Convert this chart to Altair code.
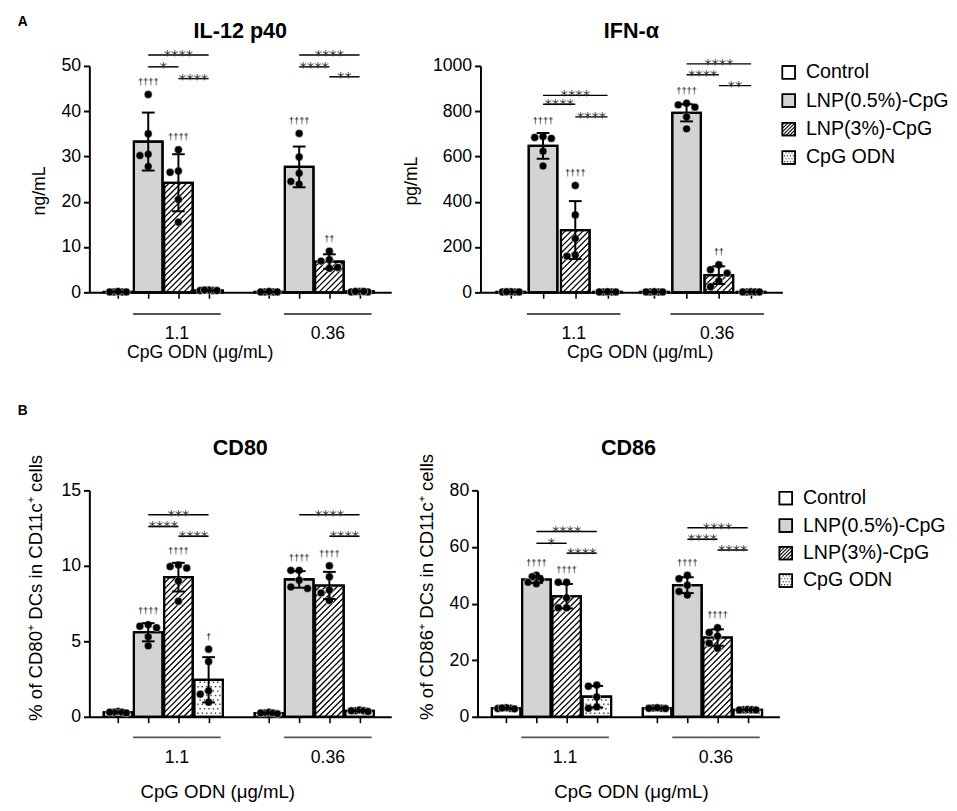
import altair as alt
import numpy as np
import pandas as pd

GROUPS = ["Control", "LNP(0.5%)-CpG", "LNP(3%)-CpG", "CpG ODN"]
DOSES = ["1.1", "0.36"]
FILLS = ["#ffffff", "#d3d3d3", "#ffffff", "#ffffff"]
PATTERN = ["none", "none", "hatch", "dots"]

# ---------------- IL-12 p40 (ng/mL) ----------------
il12_points_1_1 = [[0.1, 0.1, 0.2, 0.1, 0.1], [43.7, 35.0, 30.5, 30.2, 27.8],
                   [31.5, 26.5, 26.8, 20.5, 15.5], [0.4, 0.5, 0.4, 0.4, 0.5]]
il12_points_0_36 = [[0.1, 0.1, 0.1, 0.2, 0.1], [35.1, 29.9, 26.3, 24.5, 23.9],
                    [9.1, 7.2, 6.9, 5.5, 5.3], [0.2, 0.1, 0.2, 0.1, 0.2]]
il12_mean = [[0.1, 33.3, 24.2, 0.4], [0.1, 27.7, 6.8, 0.2]]
il12_sd = [[0.05, 6.4, 6.3, 0.05], [0.05, 4.5, 1.6, 0.05]]
il12_sig = [("1.1", 1, 3, "****", 52.4), ("1.1", 1, 2, "*", 49.8), ("1.1", 2, 3, "****", 47.2),
            ("0.36", 1, 3, "****", 52.4), ("0.36", 1, 2, "****", 49.8), ("0.36", 2, 3, "**", 47.6)]
il12_daggers = [["", "††††", "††††", ""], ["", "††††", "††", ""]]

# ---------------- IFN-α (pg/mL) ----------------
ifn_points_1_1 = [[2, 3, 2, 2, 3], [688, 684, 680, 623, 558],
                  [472, 342, 238, 165, 160], [2, 2, 3, 2, 2]]
ifn_points_0_36 = [[2, 2, 3, 2, 2], [835, 828, 818, 775, 722],
                   [122, 100, 85, 50, 25], [2, 3, 2, 2, 2]]
ifn_mean = [[2, 647, 275, 2], [2, 793, 76, 2]]
ifn_sd = [[0.5, 57, 128, 0.5], [0.5, 38, 39, 0.5]]
ifn_sig = [("1.1", 1, 3, "****", 870), ("1.1", 1, 2, "****", 831), ("1.1", 2, 3, "****", 775),
           ("0.36", 1, 3, "****", 1009), ("0.36", 1, 2, "****", 961), ("0.36", 2, 3, "**", 913)]
ifn_daggers = [["", "††††", "††††", ""], ["", "††††", "††", ""]]

# ---------------- CD80 (% of CD80+ DCs) ----------------
cd80_points_1_1 = [[0.35, 0.3, 0.3, 0.25, 0.3], [6.1, 6.0, 5.9, 5.3, 4.7],
                   [10.05, 9.95, 9.85, 9.0, 7.65], [4.48, 3.66, 1.72, 1.5, 0.97]]
cd80_points_0_36 = [[0.25, 0.3, 0.25, 0.2, 0.25], [9.7, 9.7, 9.05, 8.6, 8.5],
                    [10.0, 9.27, 8.4, 8.2, 7.7], [0.4, 0.45, 0.4, 0.35, 0.4]]
cd80_mean = [[0.3, 5.6, 9.25, 2.45], [0.25, 9.1, 8.7, 0.4]]
cd80_sd = [[0.04, 0.6, 0.95, 1.5], [0.04, 0.55, 0.9, 0.04]]
cd80_sig = [("1.1", 1, 3, "***", 13.38), ("1.1", 1, 2, "****", 12.6), ("1.1", 2, 3, "****", 11.96),
            ("0.36", 1, 3, "****", 13.38), ("0.36", 2, 3, "****", 11.96)]
cd80_daggers = [["", "††††", "††††", "†"], ["", "††††", "††††", ""]]

# ---------------- CD86 (% of CD86+ DCs) ----------------
cd86_points_1_1 = [[3.0, 2.8, 3.2, 2.9, 3.1], [50.0, 49.5, 48.5, 47.5, 47.0],
                   [47.5, 47.5, 42.0, 38.5, 38.5], [11.2, 10.8, 7.0, 3.5, 3.0]]
cd86_points_0_36 = [[3.0, 3.1, 2.9, 3.0, 3.2], [50.0, 48.8, 46.5, 44.3, 43.0],
                    [31.5, 29.8, 28.5, 26.0, 24.2], [2.5, 2.4, 2.6, 2.5, 2.4]]
cd86_mean = [[3.0, 48.5, 42.6, 7.1], [3.0, 46.5, 28.0, 2.5]]
cd86_sd = [[0.2, 1.2, 4.3, 3.8], [0.2, 2.8, 2.9, 0.1]]
cd86_sig = [("1.1", 1, 3, "****", 65.5), ("1.1", 1, 2, "*", 61.3), ("1.1", 2, 3, "****", 57.8),
            ("0.36", 1, 3, "****", 66.8), ("0.36", 1, 2, "****", 62.7), ("0.36", 2, 3, "****", 58.9)]
cd86_daggers = [["", "††††", "††††", ""], ["", "††††", "††††", ""]]

# ---------------- layout / style ----------------
W, H = 308, 231
FONT = "Liberation Sans"
STAR_FONT = "DejaVu Sans"
LAYOUT_WIDE = {"gap": 2.0, "dmin": -0.95, "dmax": 9.05}
LAYOUT_NARROW = {"gap": 1.45, "dmin": -0.94, "dmax": 8.42}
ROW_TOP = {"title_y": -29, "tag_y": -41, "line_y": H + 22, "dose_y": H + 48,
           "xtitle_y": H + 67, "xtitle_size": 18, "ytitle_size": 18}
ROW_BOTTOM = {"title_y": -36, "tag_y": -77, "line_y": H + 21, "dose_y": H + 47,
              "xtitle_y": H + 83, "xtitle_size": 19, "ytitle_size": 19}
ROW_GAP = 202

panels = [
    dict(title="IL-12 p40", ytitle="ng/mL", ymax=50, yticks=[0, 10, 20, 30, 40, 50],
         points=[il12_points_1_1, il12_points_0_36], mean=il12_mean, sd=il12_sd,
         sig=il12_sig, daggers=il12_daggers, layout=LAYOUT_WIDE, row=ROW_TOP,
         xtitle_x=113, ytitle_x=-51, ytitle_y=127, tag="A"),
    dict(title="IFN-α", ytitle="pg/mL", ymax=1000, yticks=[0, 200, 400, 600, 800, 1000],
         points=[ifn_points_1_1, ifn_points_0_36], mean=ifn_mean, sd=ifn_sd,
         sig=ifn_sig, daggers=ifn_daggers, layout=LAYOUT_NARROW, row=ROW_TOP,
         xtitle_x=163, ytitle_x=-70, ytitle_y=117, tag=""),
    dict(title="CD80", ytitle="% of CD80⁺ DCs in CD11c⁺ cells", ymax=15, yticks=[0, 5, 10, 15],
         points=[cd80_points_1_1, cd80_points_0_36], mean=cd80_mean, sd=cd80_sd,
         sig=cd80_sig, daggers=cd80_daggers, layout=LAYOUT_WIDE, row=ROW_BOTTOM,
         xtitle_x=131, ytitle_x=-55, ytitle_y=99, tag="B"),
    dict(title="CD86", ytitle="% of CD86⁺ DCs in CD11c⁺ cells", ymax=80, yticks=[0, 20, 40, 60, 80],
         points=[cd86_points_1_1, cd86_points_0_36], mean=cd86_mean, sd=cd86_sd,
         sig=cd86_sig, daggers=cd86_daggers, layout=LAYOUT_WIDE, row=ROW_BOTTOM,
         xtitle_x=157, ytitle_x=-52, ytitle_y=98, tag=""),
]


def hatch_px(xl, xr, yb, yt, step):
    segs = []
    h = yt - yb
    if h <= 1.0:
        return segs
    k0 = int(np.floor((xl - h) / step)) - 1
    k1 = int(np.ceil(xr / step)) + 1
    for k in range(k0, k1 + 1):
        c = k * step
        xs = max(xl, c)
        xe = min(xr, c + h)
        if xe - xs > 0.3:
            segs.append((xs, yb + xs - c, xe, yb + xe - c))
    return segs


def dots_px(xl, xr, yb, yt, step):
    pts = []
    r = 0
    y = yb + step * 0.6
    while y < yt - 1.0:
        x = xl + step * (0.6 if r % 2 == 0 else 1.1)
        while x < xr - 1.0:
            pts.append((x, y))
            x += step
        y += step
        r += 1
    return pts


def swarm(vals, py, d=9.0, maxoff=8.5):
    order = sorted(range(len(vals)), key=lambda i: -vals[i])
    placed = []
    offs = [0.0] * len(vals)
    for i in order:
        ypx = vals[i] * py
        dx = 0.0
        for k in [0, -1, 1, -2, 2, -3, 3]:
            dx = k * d
            if all((dx - q[0]) ** 2 + (ypx - q[1]) ** 2 >= (0.95 * d) ** 2 for q in placed):
                break
        placed.append((dx, ypx))
        offs[i] = dx
    m = max(abs(o) for o in offs)
    if m > maxoff:
        offs = [o * maxoff / m for o in offs]
    return offs


def build_panel(p):
    row = p["row"]
    lay = p["layout"]
    dmin, dmax, gap = lay["dmin"], lay["dmax"], lay["gap"]
    ps = W / (dmax - dmin)
    py = H / p["ymax"]

    def to_x(px):
        return dmin + px / ps

    def to_px(x):
        return (x - dmin) * ps

    bar_half = 14.6 / ps
    cap_half = 6.5 / ps

    positions, bars, pts, errs, caps, hatch, dots, dags = [], [], [], [], [], [], [], []
    pos_of = {}
    for di, dose in enumerate(DOSES):
        for ti, g in enumerate(GROUPS):
            pos = ti + di * (3 + gap)
            pos_of[(dose, ti)] = pos
            positions.append(pos)
            m = p["mean"][di][ti]
            s = p["sd"][di][ti]
            vals = p["points"][di][ti]
            bars.append(dict(group=g, x0=pos - bar_half, x1=pos + bar_half, mean=m, base=0.0))
            for v, o in zip(vals, swarm(vals, py)):
                pts.append(dict(x=pos + o / ps, y=v))
            lo = max(m - s, 0.0)
            errs.append(dict(x=pos, lo=lo, hi=m + s))
            caps.append(dict(x0=pos - cap_half, x1=pos + cap_half, y=m + s))
            caps.append(dict(x0=pos - cap_half, x1=pos + cap_half, y=lo))
            if PATTERN[ti] == "hatch":
                for xs_, ys_, xe_, ye_ in hatch_px(to_px(pos - bar_half), to_px(pos + bar_half), 0.0, m * py, 6.0):
                    hatch.append(dict(x0=to_x(xs_), y0=ys_ / py, x1=to_x(xe_), y1=ye_ / py))
            if PATTERN[ti] == "dots":
                for xd, yd in dots_px(to_px(pos - bar_half) + 1, to_px(pos + bar_half) - 1, 1.0, m * py - 1, 4.5):
                    dots.append(dict(x=to_x(xd), y=yd / py))
            dg = p["daggers"][di][ti]
            if dg:
                top = max(max(vals), m + s) * py + 12.5
                dags.append(dict(x=pos, y=top / py, t=dg))

    sig = []
    for dose, a, b, lab, lev in p["sig"]:
        xa, xb = pos_of[(dose, a)], pos_of[(dose, b)]
        sig.append(dict(x0=xa, x1=xb, xc=(xa + xb) / 2, y=lev, t=lab))

    grp = []
    for di, dose in enumerate(DOSES):
        off = di * (3 + gap)
        grp.append(dict(x0=0.5 + off, x1=3.4 + off, xc=(3.9 + 2 * off) / 2, dose=dose))

    xsc = alt.Scale(domain=[dmin, dmax], nice=False, zero=False)
    ysc = alt.Scale(domain=[0, p["ymax"]], nice=False)
    xaxis = alt.Axis(values=positions, labels=False, ticks=True, tickSize=6, tickWidth=1.6,
                     tickColor="black", domainColor="black", domainWidth=2, grid=False, title=None)
    yaxis = alt.Axis(values=p["yticks"], format="d", title=p["ytitle"], grid=False,
                     tickSize=6, tickWidth=2, tickColor="black", domainColor="black", domainWidth=2,
                     labelFont=FONT, labelFontSize=18, labelColor="black", labelPadding=3,
                     titleFont=FONT, titleFontSize=row["ytitle_size"], titleFontWeight="normal",
                     titleColor="black", titleX=p["ytitle_x"], titleY=p["ytitle_y"],
                     titleBaseline="middle")

    def X(f):
        return alt.X(f, type="quantitative", scale=xsc, axis=xaxis)

    def Y(f):
        return alt.Y(f, type="quantitative", scale=ysc, axis=yaxis)

    layers = []
    bdf = pd.DataFrame(bars)
    layers.append(alt.Chart(bdf).mark_rect(stroke="black", strokeWidth=2.2).encode(
        x=X("x0"), x2=alt.X2("x1"), y=Y("mean"), y2=alt.Y2("base"),
        fill=alt.Fill("group:N", scale=alt.Scale(domain=GROUPS, range=FILLS), legend=None)))
    if hatch:
        layers.append(alt.Chart(pd.DataFrame(hatch)).mark_rule(color="black", strokeWidth=1.3).encode(
            x=X("x0"), x2=alt.X2("x1"), y=Y("y0"), y2=alt.Y2("y1")))
    if dots:
        layers.append(alt.Chart(pd.DataFrame(dots)).mark_square(color="#444444", size=2.2, opacity=1).encode(
            x=X("x"), y=Y("y")))
    layers.append(alt.Chart(bdf).mark_rect(stroke="black", strokeWidth=2.2, fillOpacity=0).encode(
        x=X("x0"), x2=alt.X2("x1"), y=Y("mean"), y2=alt.Y2("base")))
    layers.append(alt.Chart(pd.DataFrame(pts)).mark_circle(color="black", size=66, opacity=1,
                                                          stroke="white", strokeWidth=0.5).encode(
        x=X("x"), y=Y("y")))
    layers.append(alt.Chart(pd.DataFrame(errs)).mark_rule(color="black", strokeWidth=2).encode(
        x=X("x"), y=Y("lo"), y2=alt.Y2("hi")))
    layers.append(alt.Chart(pd.DataFrame(caps)).mark_rule(color="black", strokeWidth=2).encode(
        x=X("x0"), x2=alt.X2("x1"), y=Y("y")))
    sdf = pd.DataFrame(sig)
    layers.append(alt.Chart(sdf).mark_rule(color="black", strokeWidth=1.5).encode(
        x=X("x0"), x2=alt.X2("x1"), y=Y("y")))
    layers.append(alt.Chart(sdf).mark_text(font=STAR_FONT, fontSize=15, color="#333333",
                                           baseline="alphabetic", dy=5).encode(
        x=X("xc"), y=Y("y"), text="t:N"))
    layers.append(alt.Chart(pd.DataFrame(dags)).mark_text(font=FONT, fontSize=9.5, color="#111111",
                                                          baseline="middle").encode(
        x=X("x"), y=Y("y"), text="t:N"))
    gdf = pd.DataFrame(grp)
    layers.append(alt.Chart(gdf).mark_rule(color="#555555", strokeWidth=2).encode(
        x=X("x0"), x2=alt.X2("x1"), y=alt.value(row["line_y"])))
    layers.append(alt.Chart(gdf).mark_text(font=FONT, fontSize=18, color="black",
                                           baseline="alphabetic").encode(
        x=X("xc"), y=alt.value(row["dose_y"]), text="dose:N"))
    tdf = pd.DataFrame({"t": [p["title"]], "x": ["CpG ODN (μg/mL)"], "tag": [p["tag"]]})
    layers.append(alt.Chart(tdf).mark_text(font=FONT, fontSize=22, fontWeight="bold", color="black",
                                           baseline="alphabetic").encode(
        x=alt.value(W / 2), y=alt.value(row["title_y"]), text="t:N"))
    layers.append(alt.Chart(tdf).mark_text(font=FONT, fontSize=row["xtitle_size"], color="black",
                                           baseline="alphabetic").encode(
        x=alt.value(p["xtitle_x"]), y=alt.value(row["xtitle_y"]), text="x:N"))
    if p["tag"]:
        layers.append(alt.Chart(tdf).mark_text(font=FONT, fontSize=14, fontWeight="bold", color="black",
                                               align="left", baseline="alphabetic").encode(
            x=alt.value(-73), y=alt.value(row["tag_y"]), text="tag:N"))
    return alt.layer(*layers).properties(width=W, height=H)


def build_legend(first_y, step_y):
    LW = 150
    xsc = alt.Scale(domain=[0, LW], nice=False, zero=False)
    ysc = alt.Scale(domain=[0, H], nice=False, zero=False, reverse=True)

    def X(f):
        return alt.X(f, type="quantitative", scale=xsc, axis=None)

    def Y(f):
        return alt.Y(f, type="quantitative", scale=ysc, axis=None)

    sq, hl, dl, tx = [], [], [], []
    for i, g in enumerate(GROUPS):
        yc = first_y + i * step_y
        sq.append(dict(group=g, x0=0, x1=13, y0=yc - 6.5, y1=yc + 6.5))
        tx.append(dict(x=24, y=yc, t=g))
        if PATTERN[i] == "hatch":
            for xs_, ys_, xe_, ye_ in hatch_px(0, 13, 0, 13, 3.6):
                hl.append(dict(x0=xs_, x1=xe_, y0=yc + 6.5 - ys_, y1=yc + 6.5 - ye_))
        if PATTERN[i] == "dots":
            for xd, yd in dots_px(0.5, 12.5, 0.5, 12.5, 3.0):
                dl.append(dict(x=xd, y=yc + 6.5 - yd))
    sdf = pd.DataFrame(sq)
    layers = [
        alt.Chart(sdf).mark_rect(stroke="black", strokeWidth=1.5).encode(
            x=X("x0"), x2=alt.X2("x1"), y=Y("y0"), y2=alt.Y2("y1"),
            fill=alt.Fill("group:N", scale=alt.Scale(domain=GROUPS, range=FILLS), legend=None)),
        alt.Chart(pd.DataFrame(hl)).mark_rule(color="black", strokeWidth=1.1).encode(
            x=X("x0"), x2=alt.X2("x1"), y=Y("y0"), y2=alt.Y2("y1")),
        alt.Chart(pd.DataFrame(dl)).mark_square(color="#444444", size=1.5, opacity=1).encode(
            x=X("x"), y=Y("y")),
        alt.Chart(sdf).mark_rect(stroke="black", strokeWidth=1.5, fillOpacity=0).encode(
            x=X("x0"), x2=alt.X2("x1"), y=Y("y0"), y2=alt.Y2("y1")),
        alt.Chart(pd.DataFrame(tx)).mark_text(font=FONT, fontSize=20, color="black", align="left",
                                              baseline="middle").encode(
            x=X("x"), y=Y("y"), text="t:N"),
    ]
    return alt.layer(*layers).properties(width=LW, height=H)


p1, p2, p3, p4 = [build_panel(p) for p in panels]
leg_top = build_legend(6.5, 29.0)
leg_bot = build_legend(8.0, 28.0)

top = alt.hconcat(p1, alt.hconcat(p2, leg_top, spacing=-11, bounds="flush"),
                  spacing=91, bounds="flush")
bottom = alt.hconcat(p3, alt.hconcat(p4, leg_bot, spacing=-8, bounds="flush"),
                     spacing=88, bounds="flush")
# nested flush rows report no height of their own, so the spacing spans row top to row top
chart = alt.vconcat(top, bottom, spacing=H + ROW_GAP, bounds="flush").properties(
    padding={"left": 10, "top": -1, "right": 0, "bottom": 0}
).configure(font=FONT, background="white").configure_view(strokeWidth=0, stroke="transparent")

chart.save("out.html", embed_options={"renderer": "svg", "actions": False})
